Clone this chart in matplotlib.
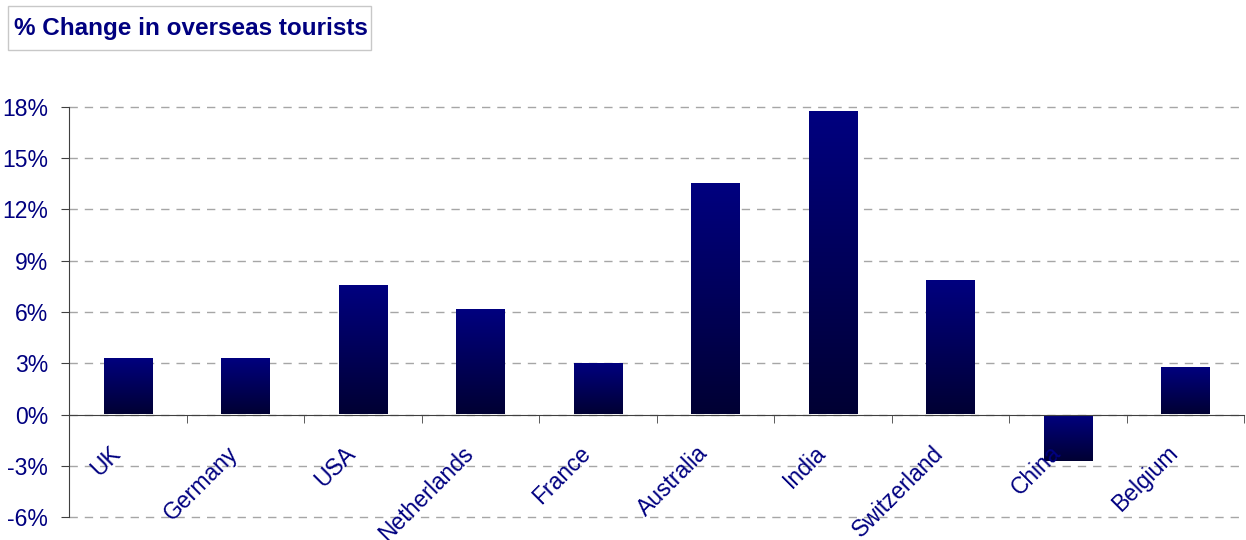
import numpy as np
import matplotlib.pyplot as plt
from matplotlib.colors import LinearSegmentedColormap
from matplotlib.patches import Rectangle
from matplotlib.ticker import FixedLocator, FuncFormatter

countries = ["UK", "Germany", "USA", "Netherlands", "France", "Australia",
             "India", "Switzerland", "China", "Belgium"]
change_pct = [3.33, 3.33, 7.6, 6.2, 3.04, 13.57, 17.78, 7.9, -2.73, 2.8]
y_ticks = [-6, -3, 0, 3, 6, 9, 12, 15, 18]

navy = "#000080"
plt.rcParams['font.family'] = ['Liberation Sans', 'DejaVu Sans']

fig = plt.figure(figsize=(12.46, 5.40), dpi=100)
ax = fig.add_axes([69/1246, 1 - 517/540, 1175/1246, 410/540])

x = np.arange(len(countries))
bars = ax.bar(x, change_pct, width=0.41, color="none", edgecolor="none", zorder=3)

# vertical gradient on each bar: navy at the top, almost black at the bottom
cmap = LinearSegmentedColormap.from_list("bar_grad", ["#000033", navy])
grad = np.linspace(0, 1, 256).reshape(-1, 1)
for b in bars:
    x0, y0 = b.get_x(), b.get_y()
    w, h = b.get_width(), b.get_height()
    lo, hi = min(y0, y0 + h), max(y0, y0 + h)
    im = ax.imshow(grad, cmap=cmap, origin="lower", aspect="auto",
                   extent=[x0, x0 + w, lo, hi], zorder=3, interpolation="bilinear")
    im.set_clip_path(b)

ax.set_xlim(-0.5, len(countries) - 0.5)
ax.set_ylim(-6, 18)

ax.yaxis.set_major_locator(FixedLocator(y_ticks))
ax.yaxis.set_major_formatter(FuncFormatter(lambda v, p: f"{v:.0f}%"))
ax.grid(axis="y", color="#a6a6a6", linestyle=(0, (6, 5)), linewidth=1, zorder=1)
for gl in ax.get_ygridlines():
    gl.set_clip_on(False)

for s in ["top", "right"]:
    ax.spines[s].set_visible(False)
ax.spines["bottom"].set_position(("data", 0))
ax.spines["bottom"].set_color("#404040")
ax.spines["left"].set_color("#404040")
ax.spines["bottom"].set_zorder(4)

ax.set_xticks([])
ax.set_xticks(np.arange(len(countries) + 1) - 0.5, minor=True)
ax.tick_params(axis="x", which="minor", length=6, color="#404040", direction="out")
ax.tick_params(axis="y", length=6, color="#404040", labelsize=16.5,
               labelcolor=navy, pad=9)

for i, name in enumerate(countries):
    ax.annotate(name, xy=(i, 0), xytext=(-13.5, -19.5), textcoords="offset points",
                rotation=45, ha="right", va="top", rotation_mode="anchor",
                fontsize=16.5, color=navy, zorder=5)

fig.patches.append(Rectangle((8/1246, 1 - 50/540), 363/1246, 44/540,
                             transform=fig.transFigure, facecolor="white",
                             edgecolor="#c8c8c8", linewidth=1))
fig.text(14/1246, 1 - 29/540, "% Change in overseas tourists", fontsize=17.5,
         fontweight="bold", color=navy, va="center", ha="left")

fig.savefig("out.png", dpi=100)
